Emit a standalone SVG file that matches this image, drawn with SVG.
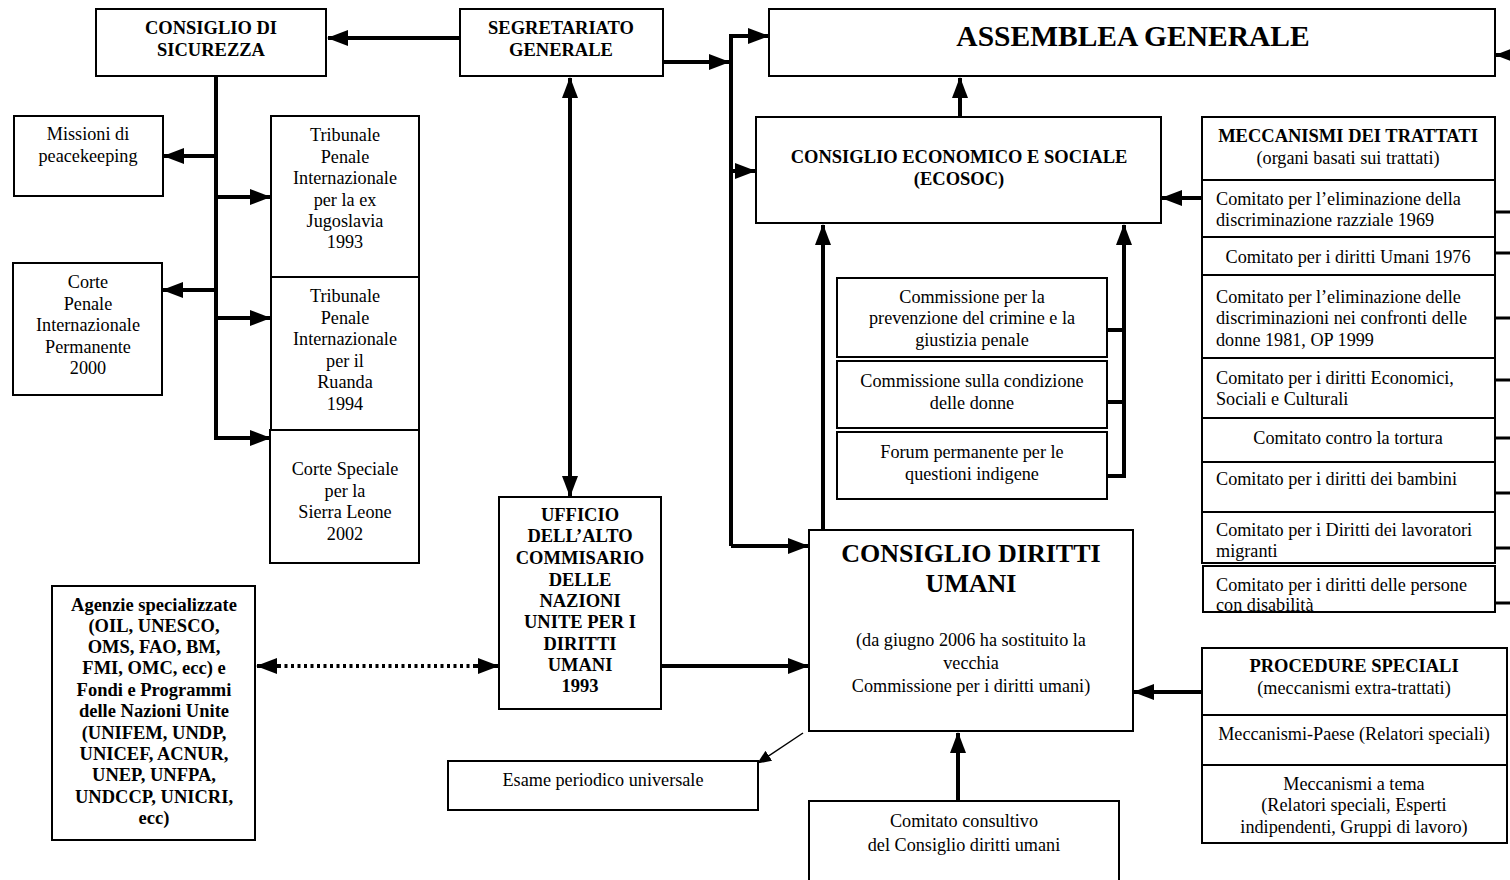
<svg xmlns="http://www.w3.org/2000/svg" width="1510" height="880" viewBox="0 0 1510 880">
<defs>
<marker id="ah" markerUnits="userSpaceOnUse" markerWidth="22" markerHeight="18" refX="20" refY="9" orient="auto-start-reverse" viewBox="0 0 22 18"><path d="M0,1 L21,9 L0,17 z" fill="#000"/></marker>
<marker id="ahs" markerUnits="userSpaceOnUse" markerWidth="14" markerHeight="12" refX="13" refY="6" orient="auto" viewBox="0 0 14 12"><path d="M0,0 L14,6 L0,12 z" fill="#000"/></marker>
<style>
rect{fill:#fff;stroke:#000;stroke-width:2}
rect.o{fill:none}
rect.f{stroke:none}
text{font-family:"Liberation Serif","Times New Roman",serif;font-size:18.2px;fill:#000}
.c{text-anchor:middle}
.b{font-weight:bold;font-size:18.5px}
.big{font-size:29.5px;font-weight:bold}
.t{font-size:26px;font-weight:bold}
.k{stroke:#000;stroke-width:4;fill:none}
.kt{stroke:#000;stroke-width:3;fill:none}
</style>
</defs>
<rect x="0" y="0" width="1510" height="880" style="fill:#fff;stroke:none"/>

<g id="connectors">
<path class="k" d="M460,38 H328" marker-end="url(#ah)"/>
<path class="k" d="M216,76 V438 H270" marker-end="url(#ah)"/>
<path class="k" d="M216,156 H164" marker-end="url(#ah)"/>
<path class="k" d="M216,197 H270" marker-end="url(#ah)"/>
<path class="k" d="M216,290 H163" marker-end="url(#ah)"/>
<path class="k" d="M216,318 H270" marker-end="url(#ah)"/>
<path class="k" d="M570,78 V496" marker-start="url(#ah)" marker-end="url(#ah)"/>
<path class="k" d="M663,62 H729" marker-end="url(#ah)"/>
<path class="k" d="M731,546 V36 H768" marker-end="url(#ah)"/>
<path class="k" d="M731,171 H755" marker-end="url(#ah)"/>
<path class="k" d="M731,546 H808" marker-end="url(#ah)"/>
<path class="k" d="M960,117 V78" marker-end="url(#ah)"/>
<path class="k" d="M823,530 V225" marker-end="url(#ah)"/>
<path class="k" d="M1107,330 H1124 M1107,402 H1124 M1107,476 H1124"/>
<path class="k" d="M1124,478 V225" marker-end="url(#ah)"/>
<path class="k" d="M1201,198 H1162" marker-end="url(#ah)"/>
<path class="k" d="M661,666 H808" marker-end="url(#ah)"/>
<path stroke="#000" stroke-width="4" stroke-dasharray="3 3.5" fill="none" d="M278,666 H478"/>
<path class="k" d="M280,666 H257" marker-end="url(#ah)"/>
<path class="k" d="M476,666 H498" marker-end="url(#ah)"/>
<path stroke="#000" stroke-width="1.5" fill="none" d="M803,733 L758,763" marker-end="url(#ahs)"/>
<path class="k" d="M958,801 V733" marker-end="url(#ah)"/>
<path class="k" d="M1201,692 H1134" marker-end="url(#ah)"/>
<path class="k" d="M1512,55 H1496" marker-end="url(#ah)"/>
<path class="kt" d="M1495,212 H1510 M1495,253 H1510 M1495,318 H1510 M1495,380 H1510 M1495,438 H1510 M1495,493 H1510 M1495,548 H1510 M1495,603 H1510"/>
</g>

<g id="consiglio-sicurezza"><rect x="96" y="9" width="230" height="67"/><text class="c b" x="211" y="34">CONSIGLIO DI</text><text class="c b" x="211" y="56">SICUREZZA</text></g>
<g id="segretariato"><rect x="460" y="9" width="203" height="67"/><text class="c b" x="561" y="34">SEGRETARIATO</text><text class="c b" x="561" y="56">GENERALE</text></g>
<g id="assemblea"><rect x="769" y="9" width="726" height="67"/><text class="c big" x="1133" y="46">ASSEMBLEA GENERALE</text></g>
<g id="missioni"><rect x="14" y="116" width="149" height="80"/><text class="c" x="88" y="140">Missioni di</text><text class="c" x="88" y="162">peacekeeping</text></g>
<g id="tribunale-jugoslavia"><rect x="271" y="116" width="148" height="161"/><text class="c" x="345" y="141">Tribunale</text><text class="c" x="345" y="163">Penale</text><text class="c" x="345" y="184">Internazionale</text><text class="c" x="345" y="206">per la ex</text><text class="c" x="345" y="227">Jugoslavia</text><text class="c" x="345" y="248">1993</text></g>
<g id="tribunale-ruanda"><rect x="271" y="277" width="148" height="153"/><text class="c" x="345" y="302">Tribunale</text><text class="c" x="345" y="324">Penale</text><text class="c" x="345" y="345">Internazionale</text><text class="c" x="345" y="367">per il</text><text class="c" x="345" y="388">Ruanda</text><text class="c" x="345" y="410">1994</text></g>
<g id="corte-sierra-leone"><rect x="270" y="430" width="149" height="133"/><text class="c" x="345" y="475">Corte Speciale</text><text class="c" x="345" y="497">per la</text><text class="c" x="345" y="518">Sierra Leone</text><text class="c" x="345" y="540">2002</text></g>
<g id="corte-penale"><rect x="13" y="263" width="149" height="132"/><text class="c" x="88" y="288">Corte</text><text class="c" x="88" y="310">Penale</text><text class="c" x="88" y="331">Internazionale</text><text class="c" x="88" y="353">Permanente</text><text class="c" x="88" y="374">2000</text></g>
<g id="ecosoc"><rect x="756" y="117" width="405" height="106"/><text class="c b" x="959" y="163">CONSIGLIO ECONOMICO E SOCIALE</text><text class="c b" x="959" y="185">(ECOSOC)</text></g>
<g id="commissione-crimine"><rect x="837" y="278" width="270" height="79"/><text class="c" x="972" y="303">Commissione per la</text><text class="c" x="972" y="324">prevenzione del crimine e la</text><text class="c" x="972" y="346">giustizia penale</text></g>
<g id="commissione-donne"><rect x="837" y="361" width="270" height="67"/><text class="c" x="972" y="387">Commissione sulla condizione</text><text class="c" x="972" y="409">delle donne</text></g>
<g id="forum-indigene"><rect x="837" y="432" width="270" height="67"/><text class="c" x="972" y="458">Forum permanente per le</text><text class="c" x="972" y="480">questioni indigene</text></g>
<g id="consiglio-diritti-umani"><rect x="809" y="530" width="324" height="201"/><text class="c t" x="971" y="562">CONSIGLIO DIRITTI</text><text class="c t" x="971" y="592">UMANI</text><text class="c" x="971" y="646">(da giugno 2006 ha sostituito la</text><text class="c" x="971" y="669">vecchia</text><text class="c" x="971" y="692">Commissione per i diritti umani)</text></g>
<g id="ufficio-alto-commissario"><rect x="499" y="497" width="162" height="212"/><text class="c b" x="580" y="521">UFFICIO</text><text class="c b" x="580" y="542">DELL’ALTO</text><text class="c b" x="580" y="564">COMMISARIO</text><text class="c b" x="580" y="586">DELLE</text><text class="c b" x="580" y="607">NAZIONI</text><text class="c b" x="580" y="628">UNITE PER I</text><text class="c b" x="580" y="650">DIRITTI</text><text class="c b" x="580" y="671">UMANI</text><text class="c b" x="580" y="692">1993</text></g>
<g id="agenzie"><rect x="52" y="586" width="203" height="254"/><text class="c b" x="154" y="611">Agenzie specializzate</text><text class="c b" x="154" y="632">(OIL, UNESCO,</text><text class="c b" x="154" y="653">OMS, FAO, BM,</text><text class="c b" x="154" y="674">FMI, OMC, ecc) e</text><text class="c b" x="154" y="696">Fondi e Programmi</text><text class="c b" x="154" y="717">delle Nazioni Unite</text><text class="c b" x="154" y="739">(UNIFEM, UNDP,</text><text class="c b" x="154" y="760">UNICEF, ACNUR,</text><text class="c b" x="154" y="781">UNEP, UNFPA,</text><text class="c b" x="154" y="803">UNDCCP, UNICRI,</text><text class="c b" x="154" y="824">ecc)</text></g>
<g id="esame-periodico"><rect x="448" y="761" width="310" height="49"/><text class="c" x="603" y="786">Esame periodico universale</text></g>
<g id="comitato-consultivo"><rect x="809" y="801" width="310" height="85"/><text class="c" x="964" y="827">Comitato consultivo</text><text class="c" x="964" y="851">del Consiglio diritti umani</text></g>
<g id="meccanismi-trattati">
<rect x="1202" y="117" width="293" height="63"/><text class="c b" x="1348" y="142">MECCANISMI DEI TRATTATI</text><text class="c" x="1348" y="164">(organi basati sui trattati)</text>
<rect x="1202" y="180" width="293" height="57"/><text x="1216" y="205">Comitato per l’eliminazione della</text><text x="1216" y="226">discriminazione razziale 1969</text>
<rect x="1202" y="237" width="293" height="38"/><text class="c" x="1348" y="263">Comitato per i diritti Umani 1976</text>
<rect x="1202" y="275" width="293" height="83"/><text x="1216" y="303">Comitato per l’eliminazione delle</text><text x="1216" y="324">discriminazioni nei confronti delle</text><text x="1216" y="346">donne 1981, OP 1999</text>
<rect x="1202" y="358" width="293" height="60"/><text x="1216" y="384">Comitato per i diritti Economici,</text><text x="1216" y="405">Sociali e Culturali</text>
<rect x="1202" y="418" width="293" height="44"/><text class="c" x="1348" y="444">Comitato contro la tortura</text>
<rect x="1202" y="462" width="293" height="50"/><text x="1216" y="485">Comitato per i diritti dei bambini</text>
<svg x="1202" y="512" width="294" height="51" overflow="hidden"><rect class="f" x="0" y="0" width="293" height="51"/><text x="14" y="24">Comitato per i Diritti dei lavoratori</text><text x="14" y="45">migranti</text></svg>
<rect class="o" x="1202" y="512" width="293" height="51"/>
<svg x="1202" y="565" width="294" height="47" overflow="hidden"><rect class="f" x="1" y="1" width="292" height="46"/><text x="14" y="26">Comitato per i  diritti delle persone</text><text x="14" y="46">con disabilità</text></svg>
<rect class="o" x="1203" y="566" width="292" height="46"/>
</g>
<g id="procedure-speciali">
<rect x="1202" y="648" width="305" height="67"/><text class="c b" x="1354" y="672">PROCEDURE SPECIALI</text><text class="c" x="1354" y="694">(meccanismi extra-trattati)</text>
<rect x="1202" y="715" width="305" height="50"/><text class="c" x="1354" y="740">Meccanismi-Paese (Relatori speciali)</text>
<rect x="1202" y="765" width="305" height="78"/><text class="c" x="1354" y="790">Meccanismi a tema</text><text class="c" x="1354" y="811">(Relatori speciali, Esperti</text><text class="c" x="1354" y="833">indipendenti, Gruppi di lavoro)</text>
</g>
</svg>
